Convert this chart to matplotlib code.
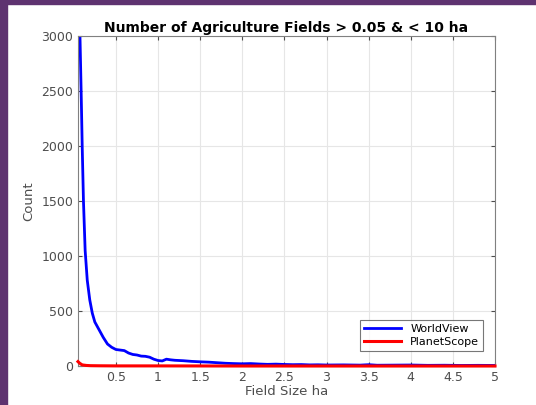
import matplotlib.pyplot as plt
from matplotlib.patches import Rectangle

# field size (ha) and count
wv_size = [0.06, 0.075, 0.09, 0.10, 0.115, 0.135, 0.16, 0.19, 0.22, 0.25, 0.30, 0.35,
           0.40, 0.45, 0.50, 0.55, 0.60, 0.65, 0.70, 0.75, 0.80, 0.85, 0.90, 0.95,
           1.00, 1.05, 1.10, 1.15, 1.20, 1.30, 1.40, 1.50, 1.60, 1.70, 1.80, 1.90,
           2.00, 2.10, 2.20, 2.30, 2.40, 2.50, 2.60, 2.70, 2.80, 2.90, 3.00, 3.20,
           3.40, 3.50, 3.60, 3.80, 4.00, 4.20, 4.40, 4.60, 4.80, 5.00]
wv_count = [3400, 2950, 2400, 2000, 1500, 1050, 780, 600, 480, 400, 330, 260,
            200, 170, 150, 145, 140, 118, 105, 100, 90, 88, 80, 62,
            50, 46, 62, 56, 52, 48, 42, 38, 35, 30, 25, 22,
            20, 22, 18, 15, 17, 14, 12, 13, 10, 11, 9, 10,
            8, 12, 7, 8, 9, 6, 7, 5, 6, 5]

ps_size = [0.05, 0.07, 0.10, 0.15, 0.20, 0.30, 0.50, 1.00, 2.00, 5.00]
ps_count = [40, 25, 10, 5, 3, 2, 1, 1, 0, 0]

gris = '#4d4d4d'

fig = plt.figure(figsize=(5.36, 4.05), dpi=100)
fig.patch.set_facecolor('white')
# purple frame of the slide
fig.patches.append(Rectangle((0, 0), 0.013, 1, transform=fig.transFigure, color='#5e3370', zorder=0))
fig.patches.append(Rectangle((0, 0.99), 1, 0.01, transform=fig.transFigure, color='#5e3370', zorder=0))

ax = fig.add_axes([0.1455, 0.0963, 0.778, 0.8147])
ax.plot(wv_size, wv_count, color='#0000ff', lw=2, label='WorldView', zorder=2)
ax.plot(ps_size, ps_count, color='#ff0000', lw=2.2, label='PlanetScope', clip_on=False, zorder=3)

ax.set_xlim(0.05, 5)
ax.set_ylim(0, 3000)
ax.set_xticks([0.5, 1, 1.5, 2, 2.5, 3, 3.5, 4, 4.5, 5])
ax.set_xticklabels(['0.5', '1', '1.5', '2', '2.5', '3', '3.5', '4', '4.5', '5'])
ax.set_yticks(range(0, 3001, 500))
ax.grid(True, color='#e6e6e6', lw=0.8)
ax.set_axisbelow(True)
ax.tick_params(direction='in', top=True, right=True, length=3, colors=gris,
               labelsize=9, labelcolor=gris)
for s in ax.spines.values():
    s.set_color('#808080')
    s.set_linewidth(0.8)

ax.set_title('Number of Agriculture Fields > 0.05 & < 10 ha', fontsize=10,
             fontweight='bold', pad=3)
ax.set_xlabel('Field Size ha', fontsize=9.5, color=gris, labelpad=1)
ax.set_ylabel('Count', fontsize=9.5, color=gris, labelpad=4)

leg = ax.legend(loc='lower right', fontsize=8, frameon=True, fancybox=False,
                edgecolor='#555555', handlelength=3.4, borderpad=0.35,
                labelspacing=0.25, bbox_to_anchor=(0.985, 0.03))
leg.get_frame().set_linewidth(0.8)

fig.savefig('out.png', dpi=100)
